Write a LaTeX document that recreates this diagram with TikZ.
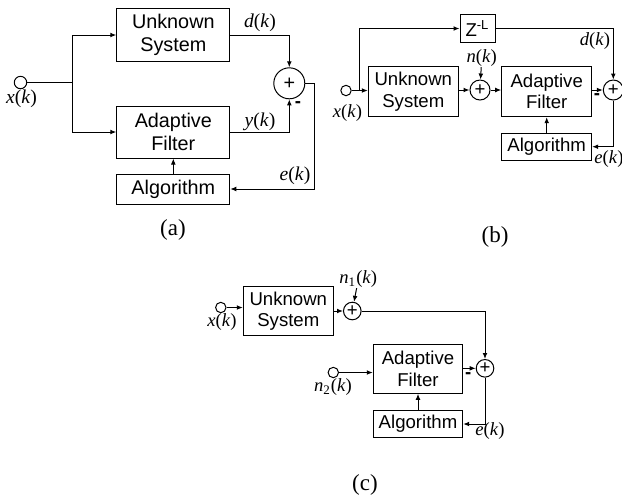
\documentclass[tikz,border=0pt]{standalone}
\usepackage{fontspec}
\setmainfont{Liberation Serif}
\setsansfont{Liberation Sans}
\usetikzlibrary{positioning, arrows.meta}
\newcommand{\sg}[1]{\textit{#1}(\textit{k})}

\begin{document}
\begin{tikzpicture}[x=0.5pt, y=-0.5pt,
  blk/.style={draw, line width=0.5pt, align=center, inner sep=0pt,
    font=\sffamily\fontsize{9.3}{10.6}\selectfont},
  bigblk/.style={blk, font=\sffamily\fontsize{9.9}{11.2}\selectfont},
  sumnode/.style={draw, circle, line width=0.5pt, inner sep=0pt,
    font=\sffamily\fontsize{9.3}{10}\selectfont},
  src/.style={draw, circle, line width=0.5pt, inner sep=0pt, minimum size=5.2pt},
  lbl/.style={inner sep=0pt, font=\fontsize{9.3}{10}\selectfont},
  biglbl/.style={inner sep=0pt, font=\fontsize{9.8}{10}\selectfont},
  minus/.style={inner sep=0pt, font=\sffamily\bfseries\fontsize{9.3}{10}\selectfont},
  capt/.style={inner sep=0pt, font=\fontsize{11.5}{12}\selectfont},
  wire/.style={line width=0.5pt},
  arr/.style={wire, -{Latex[length=3pt, width=2.4pt]}}]
  \useasboundingbox (0,0) rectangle (622,495);

  % (a)
  \node[src, minimum size=6.2pt] (xa) at (20.5,82.5) {};
  \node[biglbl] (xalbl) at (21.5,99) {\sg{x}};
  \coordinate (ja) at (72.7,82.5);
  \node[bigblk, minimum width=56.5pt, minimum height=26.7pt] (usa) at (173.3,35) {Unknown\\System};
  \node[bigblk, minimum width=56.5pt, minimum height=26pt] (afa) at (173.3,132) {Adaptive\\Filter};
  \node[bigblk, minimum width=56.5pt, minimum height=15pt] (alga) at (173.3,189) {Algorithm};
  \node[sumnode, minimum size=15.5pt, font=\sffamily\fontsize{9.9}{10}\selectfont] (suma) at (289.3,83.3) {+};
  \coordinate (ea) at (314,189);
  \node[biglbl] (dalbl) at (260,23) {\sg{d}};
  \node[biglbl] (yalbl) at (260,122) {\sg{y}};
  \node[minus] (mina) at (298,105) {-};
  \node[biglbl] (ealbl) at (295,176) {\sg{e}};
  \node[capt] (capa) at (173,230) {(a)};

  \draw[wire] (xa) -- (ja);
  \draw[arr] (ja) |- (usa);
  \draw[arr] (ja) |- (afa);
  \draw[arr] (usa) -| (suma);
  \draw[arr] (afa) -| (suma);
  \draw[arr] (suma) -| (ea) -- (alga);
  \draw[arr] (alga) -- (afa);

  % (b)
  \node[src] (xb) at (346,90.5) {};
  \node[lbl] (xblbl) at (347.5,113) {\sg{x}};
  \coordinate (jb) at (359.3,90.5);
  \node[blk, minimum width=45pt, minimum height=25pt] (usb) at (413.3,91.7) {Unknown\\System};
  \node[blk, minimum width=17.5pt, minimum height=14pt] (zb) at (477.5,28.5) {Z\textsuperscript{-L}};
  \node[sumnode, minimum size=10pt] (s1b) at (480,90) {+};
  \node[blk, minimum width=45pt, minimum height=25pt] (afb) at (546.7,91.7) {Adaptive\\Filter};
  \node[sumnode, minimum size=10pt] (s2b) at (613.3,90) {+};
  \node[blk, minimum width=45pt, minimum height=13.5pt] (algb) at (546.7,146.7) {Algorithm};
  \node[lbl] (nblbl) at (481.7,58.3) {\sg{n}};
  \node[lbl] (dblbl) at (595,40.7) {\sg{d}};
  \node[minus] (minb) at (597,96.7) {-};
  \node[lbl] (eblbl) at (609,159.3) {\sg{e}};
  \node[capt] (capb) at (495,236.7) {(b)};

  \draw[wire] (xb) -- (jb);
  \draw[arr] (jb) -- (usb.west |- jb);
  \draw[arr] (jb) |- (zb);
  \draw[arr] (zb) -| (s2b);
  \draw[arr] (usb.east |- s1b) -- (s1b);
  \draw[arr] (nblbl) -- (s1b);
  \draw[arr] (s1b) -- (afb.west |- s1b);
  \draw[arr] (afb.east |- s2b) -- (s2b);
  \draw[arr] (s2b) |- (algb);
  \draw[arr] (algb) -- (afb);

  % (c)
  \node[src] (xc) at (220.8,307.5) {};
  \node[lbl] (xclbl) at (222,322.5) {\sg{x}};
  \node[blk, minimum width=45pt, minimum height=24.5pt] (usc) at (288.3,311.3) {Unknown\\System};
  \node[sumnode, minimum size=8.8pt] (s1c) at (352.3,311) {+};
  \node[lbl] (n1clbl) at (358.3,279.3) {\textit{n}\textsubscript{1}(\textit{k})};
  \node[blk, minimum width=44.7pt, minimum height=24.5pt] (afc) at (418,368.8) {Adaptive\\Filter};
  \node[sumnode, minimum size=8.8pt] (s2c) at (485,368.3) {+};
  \node[blk, minimum width=44.7pt, minimum height=13.3pt] (algc) at (418,424) {Algorithm};
  \node[src] (n2c) at (333.3,372.5) {};
  \node[lbl] (n2clbl) at (333,387.5) {\textit{n}\textsubscript{2}(\textit{k})};
  \node[minus] (minc) at (468.3,376) {-};
  \node[lbl] (ecbl) at (490,431) {\sg{e}};
  \node[capt] (capc) at (365,485) {(c)};

  \draw[arr] (xc) -- (usc.west |- xc);
  \draw[arr] (usc.east |- s1c) -- (s1c);
  \draw[arr] (n1clbl) -- (s1c);
  \draw[arr] (s1c) -| (s2c);
  \draw[arr] (n2c) -- (afc.west |- n2c);
  \draw[arr] (afc.east |- s2c) -- (s2c);
  \draw[arr] (s2c) |- (algc);
  \draw[arr] (algc) -- (afc);
\end{tikzpicture}
\end{document}
